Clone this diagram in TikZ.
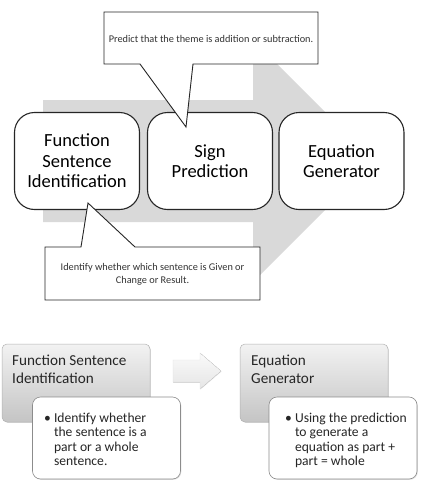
\documentclass[tikz,border=0pt]{standalone}
\usepackage{fontspec}
\setmainfont{Carlito}
\usetikzlibrary{shadows}
\definecolor{arrowgray}{HTML}{D9D9D9}
\definecolor{edgegray}{HTML}{8C8C8C}
\tikzset{
  bigbox/.style={draw=black!85, line width=1.1pt, rounded corners=20pt, fill=white,
    minimum width=125pt, minimum height=97pt, align=center,
    font=\fontsize{18.5}{20.5}\selectfont, inner sep=0pt},
  callout/.style={draw=black!85, line width=0.9pt, fill=white},
  calltext/.style={font=\fontsize{10.3}{12.5}\selectfont, align=center, text=black!80, inner sep=0pt},
  graybox/.style={draw=gray!60, line width=0.5pt, rounded corners=5pt,
    top color=gray!10, bottom color=gray!46, minimum width=148pt, minimum height=78pt,
    drop shadow={shadow xshift=0.8pt, shadow yshift=-0.8pt, opacity=0.25}},
  whitebox/.style={draw=edgegray, line width=0.6pt, rounded corners=8pt, fill=white,
    minimum width=148pt, minimum height=82pt,
    drop shadow={shadow xshift=0.8pt, shadow yshift=-0.8pt, opacity=0.25}},
  graytext/.style={font=\fontsize{15.2}{18}\selectfont, align=left, anchor=north west, inner sep=0pt, text=black!85},
  bullettext/.style={font=\fontsize{13.6}{14.2}\selectfont, align=left, anchor=north west, inner sep=0pt, text=black!85},
}
\begin{document}
\begin{tikzpicture}[x=1pt, y=-1pt]
\useasboundingbox (0,0) rectangle (424,482);
% big background arrow
\fill[arrowgray] (43,100) -- (253,100) -- (253,40) -- (374,161) -- (253,282) -- (253,222) -- (43,222) -- cycle;
% main boxes
\node[bigbox] (fsi) at (77,161) {Function\\Sentence\\Identification};
\node[bigbox] (sp) at (210,161) {Sign\\Prediction};
\node[bigbox] (eg) at (341.5,161) {Equation\\Generator};
% top callout
\coordinate (tcp) at (186,127);
\draw[callout] (104,12) -- (318,12) -- (318,64) -- (193,64) -- (tcp) -- (140,64) -- (104,64) -- cycle;
\node[calltext] (tct) at (211,39) {Predict that the theme is addition or subtraction.};
% bottom callout
\coordinate (bcp) at (88,203);
\draw[callout] (45,247) -- (81,247) -- (bcp) -- (135,247) -- (260,247) -- (260,300) -- (45,300) -- cycle;
\node[calltext] (bct) at (152.5,274.5) {Identify whether which sentence is Given or\\Change or Result.};
% lower section
\node[graybox] (g1) at (76,383) {};
\node[graytext] (g1t) at (12,355) {Function Sentence\\Identification};
\node[whitebox] (w1) at (106.5,438) {};
\node[bullettext] (w1t) at (44,413) {\textbullet\ \parbox[t]{110pt}{Identify whether\\the sentence is a\\part or a whole\\sentence.}};
\fill[top color=gray!4, bottom color=gray!20, draw=gray!25, line width=0.3pt,
  drop shadow={shadow xshift=0.6pt, shadow yshift=-0.6pt, opacity=0.15}]
  (173,360) -- (200,360) -- (200,353) -- (221,371) -- (200,389) -- (200,382) -- (173,382) -- cycle;
\node[graybox] (g2) at (314,383) {};
\node[graytext] (g2t) at (251,355) {Equation\\Generator};
\node[whitebox] (w2) at (343,438) {};
\node[bullettext] (w2t) at (285,413) {\textbullet\ \parbox[t]{130pt}{Using the prediction\\to generate a\\equation as part +\\part = whole}};
\end{tikzpicture}
\end{document}
